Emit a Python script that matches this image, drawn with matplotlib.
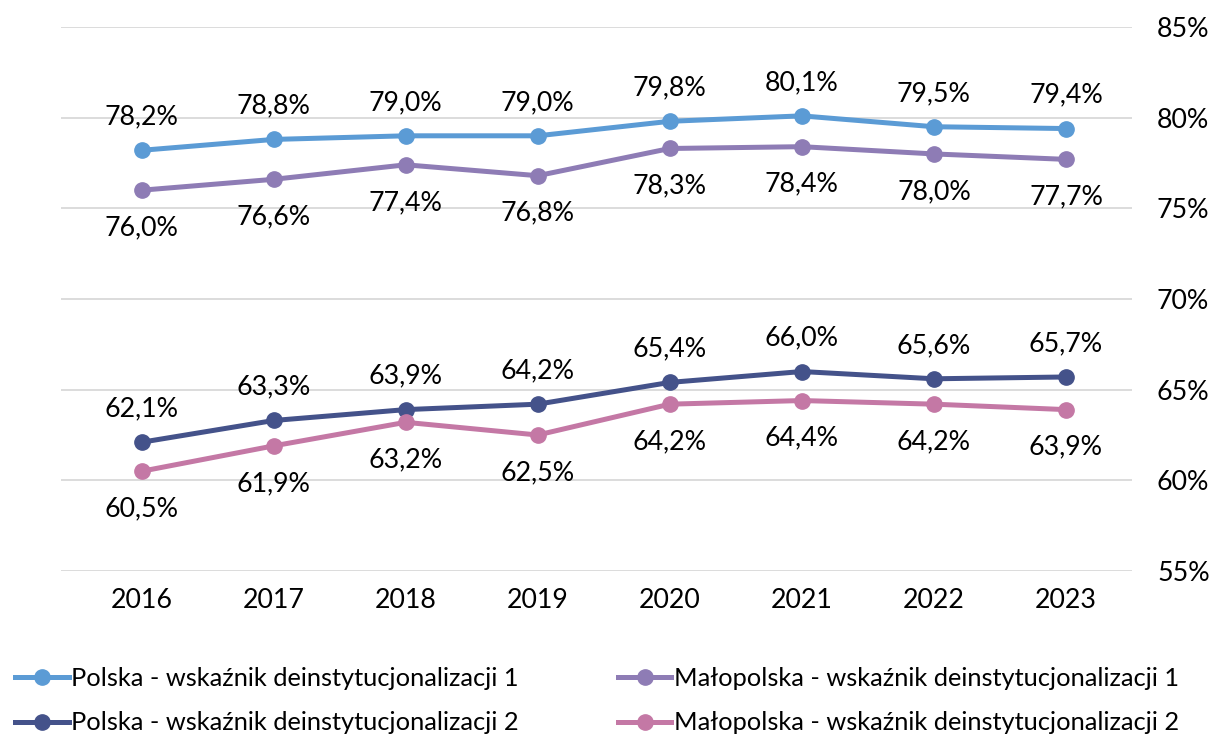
import matplotlib.pyplot as plt
from matplotlib.lines import Line2D

plt.rcParams['font.family'] = ['Lato', 'DejaVu Sans']

years = ['2016', '2017', '2018', '2019', '2020', '2021', '2022', '2023']
polska_1 = [78.2, 78.8, 79.0, 79.0, 79.8, 80.1, 79.5, 79.4]
malopolska_1 = [76.0, 76.6, 77.4, 76.8, 78.3, 78.4, 78.0, 77.7]
polska_2 = [62.1, 63.3, 63.9, 64.2, 65.4, 66.0, 65.6, 65.7]
malopolska_2 = [60.5, 61.9, 63.2, 62.5, 64.2, 64.4, 64.2, 63.9]
y_ticks = [55, 60, 65, 70, 75, 80, 85]

series = [
    ('Polska - wskaźnik deinstytucjonalizacji 1', polska_1, '#5B9BD5', 24),
    ('Polska - wskaźnik deinstytucjonalizacji 2', polska_2, '#44528A', 24),
    ('Małopolska - wskaźnik deinstytucjonalizacji 1', malopolska_1, '#8E7CB5', -27),
    ('Małopolska - wskaźnik deinstytucjonalizacji 2', malopolska_2, '#C478A5', -27),
]

fs = 19.3

fig = plt.figure(figsize=(12.14, 7.35), dpi=100)
ax = fig.add_axes([61 / 1214, 164 / 735, (1132 - 61) / 1214, (571 - 27) / 735])

x = list(range(len(years)))
handles = []
for name, vals, col, off in series:
    ax.plot(x, vals, color=col, lw=3.6, marker='o', markersize=11, zorder=3)
    handles.append(Line2D([], [], color=col, lw=3.6, marker='o', markersize=11))
    for xi, v in zip(x, vals):
        ax.annotate(f'{v:.1f}%'.replace('.', ','), (xi, v), xytext=(0, off),
                    textcoords='offset points', ha='center', va='center',
                    fontsize=fs, color='#000000')

ax.set_xlim(-0.61, 7.5)
ax.set_ylim(55, 85)
ax.set_yticks(y_ticks)
ax.set_yticklabels([f'{t}%' for t in y_ticks])
ax.set_xticks(x)
ax.set_xticklabels(years)
ax.yaxis.tick_right()
ax.grid(axis='y', color='#D9D9D9', lw=1.3)
ax.set_axisbelow(True)
for s in ax.spines.values():
    s.set_visible(False)
ax.tick_params(length=0, labelsize=fs, colors='#000000')
ax.tick_params(axis='y', pad=18)
ax.tick_params(axis='x', pad=12)

fig.legend(handles, [s[0] for s in series], ncol=2, loc='lower left',
           bbox_to_anchor=(0.0, -0.02), frameon=False, fontsize=18.3,
           handlelength=2.1, handletextpad=0.1, columnspacing=3.9,
           labelspacing=0.85, borderaxespad=0.2)

fig.savefig('out.png', dpi=100)
